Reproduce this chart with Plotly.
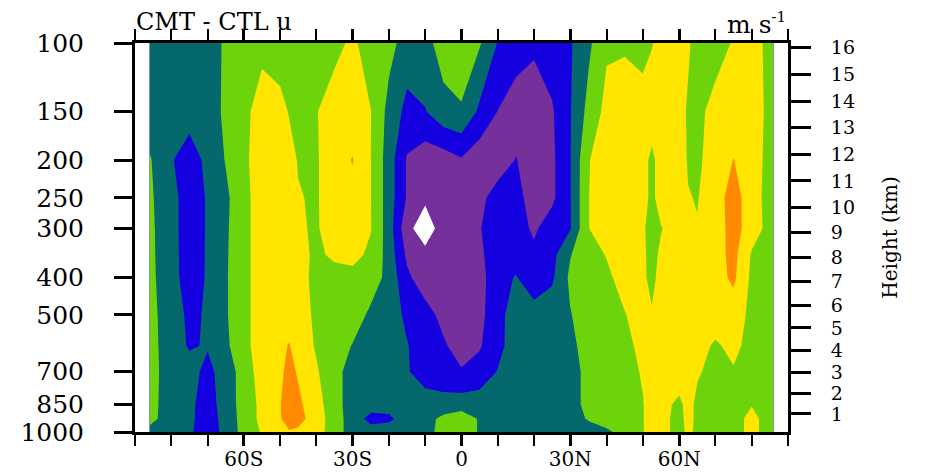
import math
import plotly.graph_objects as go

# ---------------- data ----------------
lat = [-86, -80, -75, -70, -65, -60, -55, -50, -47.5, -45, -40, -35, -30, -25, -20,
       -15, -10, -5, 0, 5, 10, 15, 20, 25, 30, 35, 40, 45, 50, 52.5, 55, 60, 62.5,
       65, 70, 75, 80, 86]

pressure = [1000, 925, 850, 700, 600, 500, 400, 350, 300, 250, 200, 150, 100]

u_1000 = [-0.3, -0.5, -0.8, -1.7, -0.6, 0.3, 1.1, 1.8, 1.9, 1.8, 1.4, 0.5, -0.5, -0.6, -0.5, -0.5, -0.3, 0.3, 0.6, -0.1, -0.5, -0.5, -0.5, -0.5, -0.6, -0.5, -0.2, 0.4, 0.95, 1.4, 1.3, 0.7, 1.2, 0.8, 0.6, 0.6, 1.3, 0.4]
u_925 = [0.3, -0.5, -0.7, -1.7, -0.5, 0.3, 1.3, 1.9, 2.6, 2.35, 1.5, 0.5, -0.5, -1.3, -1.2, -0.5, -0.3, 0.2, 0.6, -0.1, -0.5, -0.5, -0.5, -0.5, -0.5, 0.1, 0.5, 0.6, 0.95, 1.5, 1.3, 0.7, 1.3, 0.8, 0.6, 0.6, 1.3, 0.4]
u_850 = [0.35, -0.5, -0.7, -1.6, -0.4, 0.3, 1.3, 1.95, 2.6, 2.2, 1.4, 0.4, -0.5, -0.6, -0.6, -0.5, -0.5, -0.5, -0.5, -0.5, -0.5, -0.5, -0.5, -0.5, -0.4, 0.3, 0.5, 0.6, 0.95, 1.5, 1.3, 0.8, 1.3, 0.8, 0.6, 0.6, 0.95, 0.5]
u_700 = [0.4, -0.5, -0.6, -1.3, -0.5, 0.4, 1.5, 1.8, 2.3, 1.9, 1.1, 0.4, -0.5, -0.6, -0.6, -0.9, -1.5, -1.8, -1.9, -1.6, -0.95, -0.6, -0.6, -0.6, -0.4, 0.3, 0.5, 0.6, 1.1, 1.5, 1.5, 1.5, 1.3, 1.1, 0.7, 0.9, 0.6, 0.5]
u_600 = [0.35, -0.5, -1.1, -0.92, -0.2, 0.7, 1.5, 1.8, 2.05, 1.6, 0.9, 0.5, -0.05, -0.5, -0.6, -0.95, -1.5, -1.85, -2.5, -2.1, -1.3, -0.5, -0.5, -0.5, -0.3, 0.5, 0.6, 0.7, 1.3, 1.5, 1.5, 1.6, 1.5, 1.4, 0.85, 1.3, 0.6, 0.5]
u_500 = [0.3, -0.5, -1.2, -0.9, -0.1, 0.7, 1.5, 1.6, 1.6, 1.5, 0.8, 0.6, 0.5, -0.2, -0.5, -1.2, -1.6, -2.3, -2.7, -2.3, -1.3, -0.55, -0.6, -0.5, -0.05, 0.5, 0.6, 0.95, 1.5, 1.1, 1.5, 1.6, 1.6, 1.6, 1.6, 1.5, 0.75, 0.5]
u_400 = [0.25, -0.6, -1.5, -0.9, -0.1, 0.7, 1.5, 1.6, 1.5, 1.4, 0.7, 0.6, 0.7, 0.5, -0.3, -1.8, -2.6, -2.7, -2.7, -2.4, -1.3, -0.95, -1.6, -1.15, 0.2, 0.6, 0.8, 1.4, 1.2, 0.7, 1.4, 1.6, 1.6, 1.6, 1.6, 2.2, 0.8, 0.5]
u_350 = [0.22, -0.6, -1.55, -0.9, -0.12, 0.7, 1.5, 1.55, 1.5, 1.35, 0.8, 1.2, 1.3, 0.8, -0.4, -2.2, -2.7, -2.6, -2.6, -2.2, -1.4, -1.4, -1.8, -1.3, -0.05, 0.6, 1.05, 1.6, 1.2, 0.65, 1.2, 1.6, 1.4, 1.1, 1.6, 2.3, 0.9, 0.5]
u_300 = [0.2, -0.6, -1.6, -0.9, -0.15, 0.7, 1.5, 1.5, 1.45, 1.1, 0.9, 1.5, 1.6, 1.05, -0.5, -2.7, -3.6, -2.5, -2.6, -2.05, -1.5, -1.6, -2.15, -1.5, -1.05, 0.98, 1.5, 1.6, 1.15, 0.6, 0.95, 1.5, 1.3, 1.05, 1.5, 2.4, 1.5, 0.5]
u_250 = [0.15, -0.6, -1.6, -0.9, -0.2, 0.7, 1.5, 1.5, 1.45, 1.05, 0.9, 1.6, 1.7, 1.02, -0.5, -2.1, -2.8, -2.6, -2.6, -2.3, -1.5, -1.7, -2.4, -2.2, -1.05, 0.98, 1.5, 1.6, 1.3, 0.8, 1.4, 1.6, 1.05, 0.95, 1.6, 2.4, 1.5, 0.4]
u_200 = [0.1, -0.9, -1.6, -0.7, 0.05, 0.8, 1.5, 1.5, 1.3, 0.95, 0.9, 1.6, 2.05, 1.02, -0.5, -2.1, -2.6, -2.5, -2.1, -2.6, -2.6, -1.95, -2.6, -2.2, -1.05, 0.95, 1.5, 1.6, 1.3, 0.8, 1.4, 1.5, 0.9, 0.8, 1.5, 2.02, 1.5, 0.5]
u_150 = [-0.5, -0.8, -0.5, -0.4, 0.15, 0.7, 1.5, 1.3, 0.95, 0.6, 0.95, 1.5, 1.5, 1.02, -0.3, -1.3, -1.05, -0.3, -0.1, -1.2, -2.02, -2.5, -2.6, -2.1, -1.05, 0.3, 1.3, 1.6, 1.5, 1.5, 1.5, 1.3, 0.9, 0.7, 1.4, 1.6, 1.5, 0.6]
u_100 = [-0.5, -0.5, -0.5, -0.5, 0.15, 0.5, 0.7, 0.5, 0.5, 0.5, 0.5, 0.7, 1.2, 0.5, 0.3, -0.4, -0.3, 0.4, 0.6, 0.1, -1.05, -1.5, -1.8, -1.5, -1.1, -0.2, 0.85, 0.85, 0.6, 0.95, 1.4, 1.5, 1.1, 0.7, 0.5, 1.1, 1.4, 0.6]

u_diff = [u_1000, u_925, u_850, u_700, u_600, u_500, u_400, u_350, u_300,
          u_250, u_200, u_150, u_100]

contour_levels = [-3, -2, -1, 0, 1, 2]
band_colors = ["#ffffff", "#76309b", "#1500e0", "#05686c", "#6dd30b", "#ffe500", "#ff8a00"]

p_ticks = [1000, 850, 700, 500, 400, 300, 250, 200, 150, 100]
lat_ticks = [-60, -30, 0, 30, 60]
lat_labels = ["60S", "30S", "0", "30N", "60N"]
height_km = list(range(1, 17))


def std_atm_pressure(z_km):
    """US standard atmosphere pressure (hPa) at height z (km)."""
    if z_km <= 11:
        return 1013.25 * (1 - 0.0065 * z_km * 1000 / 288.15) ** 5.25588
    return 226.32 * math.exp(-(z_km - 11) * 1000 * 9.80665 / (287.053 * 216.65))


h_tickvals = [std_atm_pressure(z) for z in height_km]
h_ticktext = [str(z) for z in height_km]

# stepwise colorscale: band k evaluated at fraction k/6
n = len(band_colors) - 1
cscale = []
for k, c in enumerate(band_colors):
    lo = 0 if k == 0 else (k - 0.5) / n
    hi = 1 if k == n else (k + 0.5) / n
    cscale.append([lo, c])
    cscale.append([hi, c])

FONT = "DejaVu Serif"

fig = go.Figure()
fig.add_trace(go.Contour(
    x=lat, y=pressure, z=u_diff,
    autocontour=False,
    contours=dict(start=contour_levels[0], end=contour_levels[-1], size=1,
                  coloring="fill", showlines=False),
    line=dict(width=0, smoothing=0),
    colorscale=cscale, showscale=False, hoverinfo="skip",
))
fig.add_trace(go.Scatter(x=[0], y=[500], yaxis="y2", mode="markers",
                         marker=dict(opacity=0), showlegend=False, hoverinfo="skip"))

# page body has an 8px margin, so the figure is sized to fit the window
fig.update_layout(
    width=918, height=464,
    margin=dict(l=127, r=138, t=35, b=40, autoexpand=False),
    paper_bgcolor="white", plot_bgcolor="white",
    font=dict(family=FONT, color="black"),
    showlegend=False,
    xaxis=dict(
        range=[-90, 90], tickvals=lat_ticks, ticktext=lat_labels,
        showgrid=False, zeroline=False, automargin=False,
        showline=True, linewidth=3, linecolor="black", mirror="allticks",
        ticks="outside", ticklen=11, tickwidth=2.5, tickcolor="black",
        minor=dict(dtick=10, tick0=0, ticks="outside", ticklen=5, tickwidth=2, tickcolor="black"),
        tickfont=dict(family=FONT, size=20, color="black"),
        ticklabelstandoff=-4,
    ),
    yaxis=dict(
        type="log", range=[3, 2], tickvals=p_ticks, ticktext=[str(p) for p in p_ticks],
        showgrid=False, zeroline=False, automargin=False,
        showline=True, linewidth=3, linecolor="black",
        ticks="outside", ticklen=18, tickwidth=2.5, tickcolor="black",
        tickfont=dict(family=FONT, size=25, color="black"),
        ticklabelstandoff=25,
    ),
    yaxis2=dict(
        type="log", range=[3, 2], overlaying="y", side="right", anchor="x",
        tickvals=h_tickvals, ticktext=h_ticktext,
        showgrid=False, zeroline=False, automargin=False,
        showline=True, linewidth=3, linecolor="black",
        ticks="outside", ticklen=20, tickwidth=2.5, tickcolor="black",
        tickfont=dict(family=FONT, size=19, color="black"),
        ticklabelstandoff=16,
    ),
    annotations=[
        dict(text="CMT - CTL u", xref="paper", yref="paper", x=-0.002, y=1.012,
             xanchor="left", yanchor="bottom", showarrow=False,
             font=dict(family=FONT, size=24, color="black")),
        dict(text="m s<sup><span style='font-size:15px'>-1</span></sup>",
             xref="paper", yref="paper", x=1, y=1.004,
             xanchor="right", yanchor="bottom", showarrow=False,
             font=dict(family=FONT, size=25, color="black")),
        dict(text="Height (km)", xref="paper", yref="paper", x=1.155, y=0.5,
             xanchor="center", yanchor="middle", textangle=-90, showarrow=False,
             font=dict(family=FONT, size=20, color="black")),
    ],
)

fig.write_html("out.html")
